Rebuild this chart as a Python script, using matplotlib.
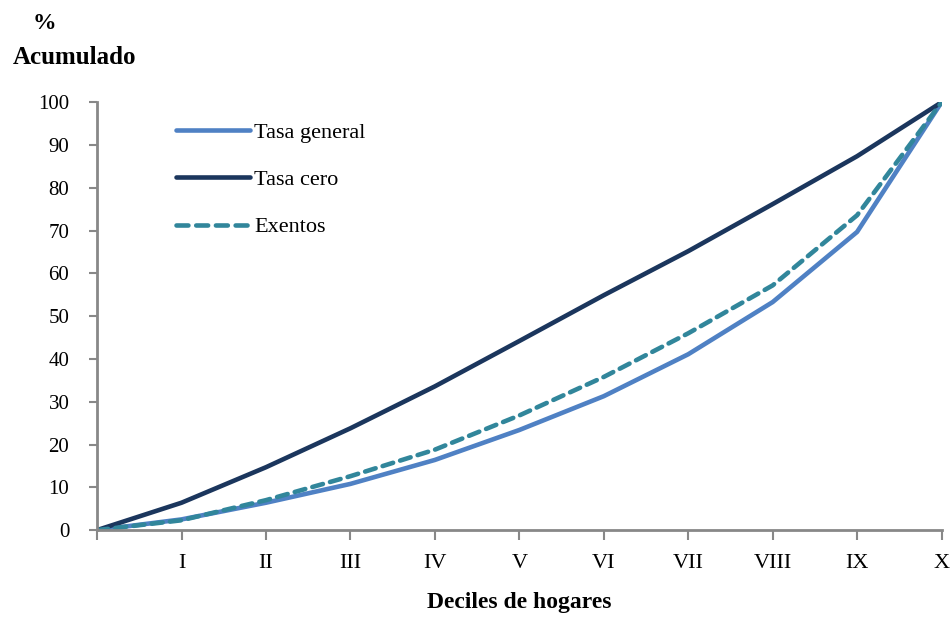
import matplotlib
matplotlib.use('Agg')
import matplotlib.pyplot as plt

plt.rcParams['font.family'] = ['Liberation Serif', 'DejaVu Serif']

# deciles 0..X
deciles = ['', 'I', 'II', 'III', 'IV', 'V', 'VI', 'VII', 'VIII', 'IX', 'X']
tasa_general = [0, 2.5, 6.4, 10.8, 16.4, 23.4, 31.3, 41.1, 53.3, 69.7, 100]
tasa_cero = [0, 6.4, 14.7, 23.8, 33.6, 44.2, 54.9, 65.2, 76.2, 87.4, 100]
exentos = [0, 2.3, 7.0, 12.6, 18.8, 26.8, 35.8, 46.0, 57.2, 73.6, 100]

c_general = '#4F81C4'
c_cero = '#1B365D'
c_exentos = '#31869B'
grey = '#888888'

fig = plt.figure(figsize=(9.52, 6.2), dpi=100)
ax = fig.add_axes([0.102, 0.145, 0.887, 0.69])

x = list(range(len(deciles)))
ax.plot(x, tasa_general, color=c_general, lw=3.3, label='Tasa general', solid_capstyle='round')
ax.plot(x, tasa_cero, color=c_cero, lw=3.3, label='Tasa cero', solid_capstyle='round')
ax.plot(x, exentos, color=c_exentos, lw=3.3, ls=(0, (2.4, 1.6)), label='Exentos',
        dash_capstyle='round')

ax.set_xlim(0, 10)
ax.set_ylim(0, 100)
ax.set_xticks(x)
ax.set_xticklabels(deciles, fontsize=16)
ax.set_yticks(range(0, 101, 10))
ax.tick_params(axis='y', labelsize=15, length=6, width=1.5, color=grey, pad=14)
ax.tick_params(axis='x', length=7, width=1.5, color=grey, pad=10)

for s in ['top', 'right']:
    ax.spines[s].set_visible(False)
for s in ['left', 'bottom']:
    ax.spines[s].set_color(grey)
    ax.spines[s].set_linewidth(2)

ax.set_xlabel('Deciles de hogares', fontsize=17, fontweight='bold', labelpad=14)

leg = ax.legend(loc='upper left', bbox_to_anchor=(0.07, 1.0), frameon=False,
                fontsize=16, handlelength=3.3, handletextpad=0.2, labelspacing=1.2)
# four whole dashes in the legend sample
leg.get_lines()[2].set_linestyle((0, (2.6, 1.7)))

fig.text(0.047, 0.962, '%', fontsize=17, fontweight='bold', ha='center', va='center')
fig.text(0.078, 0.907, 'Acumulado', fontsize=18, fontweight='bold', ha='center', va='center')

fig.savefig('out.png', dpi=100)
